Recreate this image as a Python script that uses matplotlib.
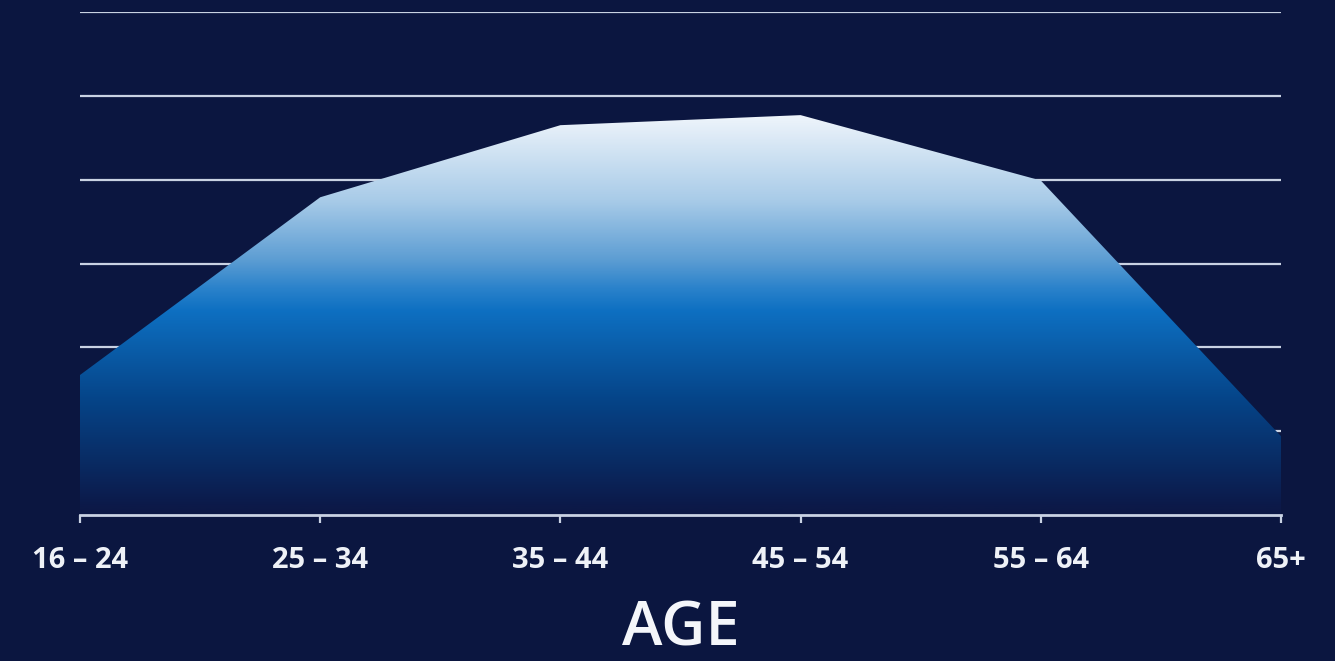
import matplotlib
matplotlib.use("Agg")
import matplotlib.pyplot as plt
import numpy as np
from matplotlib.colors import LinearSegmentedColormap
from matplotlib.patches import PathPatch
from matplotlib.path import Path

categories = ["16 – 24", "25 – 34", "35 – 44", "45 – 54", "55 – 64", "65+"]
values = [1.67, 3.79, 4.65, 4.77, 3.99, 0.94]
y_ticks = [0, 1, 2, 3, 4, 5, 6]

BG = "#0b1640"
LINE = "#c9d2e3"

fig = plt.figure(figsize=(13.35, 6.61), dpi=100, facecolor=BG)
ax = fig.add_axes([80 / 1335, 146 / 661, 1201 / 1335, 503 / 661])
ax.set_facecolor(BG)

x = np.arange(len(categories))
ax.set_xlim(0, len(categories) - 1)
ax.set_ylim(0, 6)

# gridlines
ax.set_yticks(y_ticks)
ax.yaxis.grid(True, color=LINE, linewidth=1.6, zorder=0)
ax.tick_params(axis="y", length=0, labelleft=False)

# gradient fill under the line
verts = [(x[0], 0)] + list(zip(x, values)) + [(x[-1], 0), (x[0], 0)]
codes = [Path.MOVETO] + [Path.LINETO] * (len(verts) - 2) + [Path.CLOSEPOLY]
patch = PathPatch(Path(verts, codes), facecolor="none", edgecolor="none")
ax.add_patch(patch)

stops = [
    (0.00, "#0c1845"),
    (0.12 / 4.8, "#0c1a4a"),
    (1.37 / 4.8, "#054488"),
    (2.44 / 4.8, "#0e70c2"),
    (2.70 / 4.8, "#2a82cb"),
    (3.04 / 4.8, "#5c9dd3"),
    (3.75 / 4.8, "#a8cbe8"),
    (4.70 / 4.8, "#eaf2fa"),
    (1.00, "#f2f7fc"),
]
cmap = LinearSegmentedColormap.from_list("grad", stops)
grad = np.linspace(0, 1, 512).reshape(-1, 1)
im = ax.imshow(grad, cmap=cmap, origin="lower", aspect="auto",
               extent=[x[0], x[-1], 0, 4.8], zorder=2, interpolation="bilinear")
im.set_clip_path(patch)
ax.set_xlim(0, len(categories) - 1)
ax.set_ylim(0, 6)

# axes styling
for s in ["top", "right", "left"]:
    ax.spines[s].set_visible(False)
ax.spines["bottom"].set_color(LINE)
ax.spines["bottom"].set_linewidth(2)
ax.spines["bottom"].set_zorder(3)

ax.set_xticks(x)
ax.set_xticklabels(categories)
ax.tick_params(axis="x", colors=LINE, length=6, width=1.6, pad=16,
               labelcolor="#eef1f7", labelsize=21)
for lab in ax.get_xticklabels():
    lab.set_fontfamily("Open Sans")
    lab.set_fontweight("bold")

ax.set_xlabel("AGE", fontsize=44, color="#f4f6fa", fontfamily="Open Sans",
              fontweight="semibold", labelpad=17)

fig.savefig("out.png", dpi=100, facecolor=BG)
